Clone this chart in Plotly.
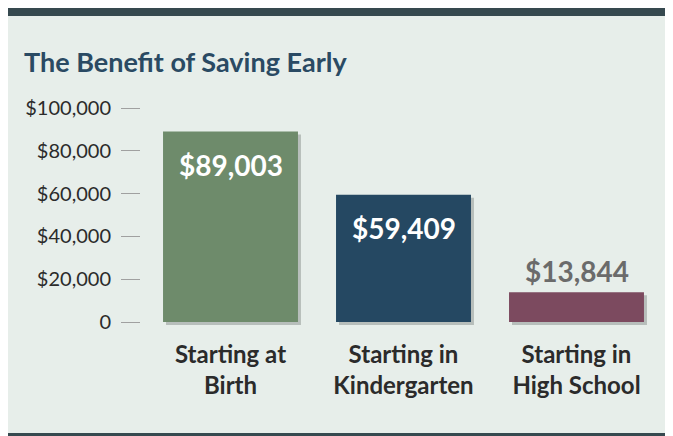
import plotly.graph_objects as go

categories = ["Starting at<br>Birth", "Starting in<br>Kindergarten", "Starting in<br>High School"]
values = [89003, 59409, 13844]
bar_colors = ["#6e8b6b", "#254862", "#7c4a5f"]
label_colors = ["#ffffff", "#ffffff", "#6b6b6b"]
label_inside = [True, True, False]
tick_vals = [0, 20000, 40000, 60000, 80000, 100000]
tick_text = ["0", "$20,000", "$40,000", "$60,000", "$80,000", "$100,000"]
title_text = "The Benefit of Saving Early"

W, H = 673, 436
L, R, T, B = 132, 14, 79, 118
PW, PH = W - L - R, H - T - B
YMAX = 109813

def px_x(px):
    return (px - L) / PW

def px_y(py):
    return (H - B - py) / PH

fig = go.Figure()

# shadow bars (drawn first, offset a few pixels right/down)
fig.add_trace(go.Bar(x=categories, y=values, xaxis="x", yaxis="y",
                     marker=dict(color="rgba(60,70,65,0.28)", line=dict(width=0)),
                     hoverinfo="skip", showlegend=False))
# main bars
fig.add_trace(go.Bar(x=categories, y=values, xaxis="x2", yaxis="y2",
                     marker=dict(color=bar_colors, line=dict(width=0)),
                     showlegend=False))

annotations = []
for c, v, col, inside in zip(categories, values, label_colors, label_inside):
    annotations.append(dict(x=c, y=v, xref="x2", yref="y2", text=f"<b>${v:,}</b>",
                            showarrow=False, yanchor="middle",
                            yshift=-33 if inside else 21,
                            font=dict(family="Lato", size=28, color=col)))
annotations.append(dict(x=px_x(14), y=px_y(53), xref="paper", yref="paper",
                        text=f"<b>{title_text}</b>", showarrow=False,
                        xanchor="left", yanchor="middle",
                        font=dict(family="Lato", size=27, color="#2a4a63")))

shapes = [
    dict(type="rect", xref="paper", yref="paper", x0=px_x(0), x1=px_x(W), y0=px_y(0), y1=px_y(8),
         fillcolor="#36494f", line=dict(width=0), layer="below"),
    dict(type="rect", xref="paper", yref="paper", x0=px_x(0), x1=px_x(W), y0=px_y(425), y1=px_y(H),
         fillcolor="#36494f", line=dict(width=0), layer="below"),
]

fig.update_layout(
    width=W, height=H,
    margin=dict(l=L, r=R, t=T, b=B),
    paper_bgcolor="#e7eeea", plot_bgcolor="rgba(0,0,0,0)",
    bargap=0.22,
    showlegend=False,
    annotations=annotations,
    shapes=shapes,
    xaxis=dict(domain=[7 / PW, (PW - 1) / PW], anchor="y", visible=False),
    yaxis=dict(domain=[1 / PH, 1 - 3 / PH], range=[0, YMAX], anchor="x", visible=False),
    xaxis2=dict(domain=[4 / PW, (PW - 4) / PW], anchor="y2", showgrid=False, zeroline=False,
                showline=False, ticks="", ticklabelstandoff=16,
                tickfont=dict(family="Lato", size=24, color="#2b2b2b", weight="bold")),
    yaxis2=dict(domain=[4 / PH, 1], range=[0, YMAX], anchor="free", position=0,
                showgrid=False, zeroline=False, showline=False,
                tickvals=tick_vals, ticktext=tick_text,
                ticks="outside", ticklen=19, tickwidth=1, tickcolor="#a0a0a0",
                ticklabelstandoff=6,
                tickfont=dict(family="Lato", size=20, color="#2b2b2b")),
)

fig.write_html("out.html")
